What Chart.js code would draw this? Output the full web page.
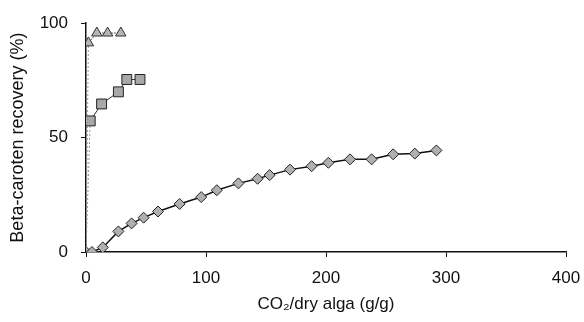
<!DOCTYPE html>
<html>
<head>
<meta charset="utf-8">
<script src="https://cdn.jsdelivr.net/npm/chart.js@4/dist/chart.umd.min.js"></script>
<style>
  html, body { margin: 0; padding: 0; background: #fff; }
  #wrap { width: 584px; height: 322px; }
</style>
</head>
<body>
<div id="wrap"><canvas id="chartgraph"></canvas></div>
<script>
// values
var diamondX = [0, 5, 14, 27, 38, 48, 60, 78, 96, 109, 127, 143, 153, 170, 188, 202, 220, 238, 256, 274, 292];
var diamondY = [0, 0, 2, 9, 12.5, 15, 17.7, 21, 24, 27, 30, 32, 33.6, 36, 37.5, 39, 40.5, 40.5, 42.7, 43, 44.4];
var squareX = [0, 3.5, 13, 27, 34, 45];
var squareY = [0, 57.3, 64.7, 70, 75.4, 75.4];
var triangleX = [0, 2, 9, 18, 29];
var triangleY = [0, 91.4, 95.7, 95.7, 95.7];
var xTicks = [0, 100, 200, 300, 400];
var yTicks = [0, 50, 100];

function pairs(xs, ys) {
  var out = [];
  for (var i = 0; i < xs.length; i++) out.push({x: xs[i], y: ys[i]});
  return out;
}

// hide the marker of the shared origin point (diamonds sit there)
function noFirst(n, r) {
  var a = [];
  for (var i = 0; i < n; i++) a.push(i === 0 ? 0 : r);
  return a;
}

var font = {family: '"Liberation Sans", Arial, sans-serif', size: 17};
var ink = '#111';

var ctx = document.getElementById('chartgraph').getContext('2d');
var chart = new Chart(ctx, {
  type: 'scatter',
  data: {
    datasets: [{
      label: 'triangles',
      data: pairs(triangleX, triangleY),
      showLine: true,
      borderColor: '#666',
      borderWidth: 1,
      segment: {
        borderDash: function(c) { return c.p0DataIndex === 0 ? [2, 2] : [2, 1]; },
        borderColor: function(c) { return c.p0DataIndex === 0 ? '#999' : '#555'; }
      },
      pointStyle: 'triangle',
      pointRadius: noFirst(triangleX.length, 6),
      pointBackgroundColor: '#b5b5b5',
      pointBorderColor: '#333',
      pointBorderWidth: 1
    }, {
      label: 'squares',
      data: pairs(squareX, squareY),
      showLine: true,
      borderColor: '#333',
      borderWidth: 1,
      segment: {
        borderDash: function(c) { return c.p0DataIndex === 0 ? [2, 2] : undefined; },
        borderColor: function(c) { return c.p0DataIndex === 0 ? '#999' : '#333'; }
      },
      pointStyle: 'rect',
      pointRadius: noFirst(squareX.length, 7),
      pointBackgroundColor: '#a8a8a8',
      pointBorderColor: '#222',
      pointBorderWidth: 1
    }, {
      label: 'diamonds',
      data: pairs(diamondX, diamondY),
      showLine: true,
      borderColor: '#111',
      borderWidth: 1.5,
      pointStyle: 'rectRot',
      pointRadius: 5.5,
      pointBackgroundColor: '#b0b0b0',
      pointBorderColor: '#222',
      pointBorderWidth: 1
    }]
  },
  options: {
    responsive: true,
    maintainAspectRatio: false,
    animation: false,
    layout: {padding: {top: 19, right: 0, left: 0, bottom: 0}},
    plugins: {legend: {display: false}, tooltip: {enabled: false}},
    scales: {
      x: {
        type: 'linear',
        min: 0,
        max: 400,
        afterBuildTicks: function(s) { s.ticks = xTicks.map(function(v) { return {value: v}; }); },
        afterFit: function(s) { s.height = 70; s.paddingRight = 18; s.paddingLeft = 0; },
        border: {color: ink, width: 1.5},
        grid: {drawOnChartArea: false, drawTicks: true, tickLength: 5, color: ink},
        ticks: {color: ink, font: font, padding: 11, maxRotation: 0},
        title: {display: true, text: 'CO\u2082/dry alga (g/g)', color: ink, font: font, padding: {top: 0, bottom: 7}}
      },
      y: {
        type: 'linear',
        min: 0,
        max: 100,
        afterBuildTicks: function(s) { s.ticks = yTicks.map(function(v) { return {value: v}; }); },
        afterFit: function(s) { s.width = 86; },
        border: {color: ink, width: 1.5},
        grid: {drawOnChartArea: false, drawTicks: true, tickLength: 5, color: ink},
        ticks: {color: ink, font: font, padding: 13},
        title: {display: true, text: 'Beta-caroten recovery (%)', color: ink, font: {family: font.family, size: 18}, padding: {top: 7, bottom: 0}}
      }
    }
  }
});
</script>
</body>
</html>
